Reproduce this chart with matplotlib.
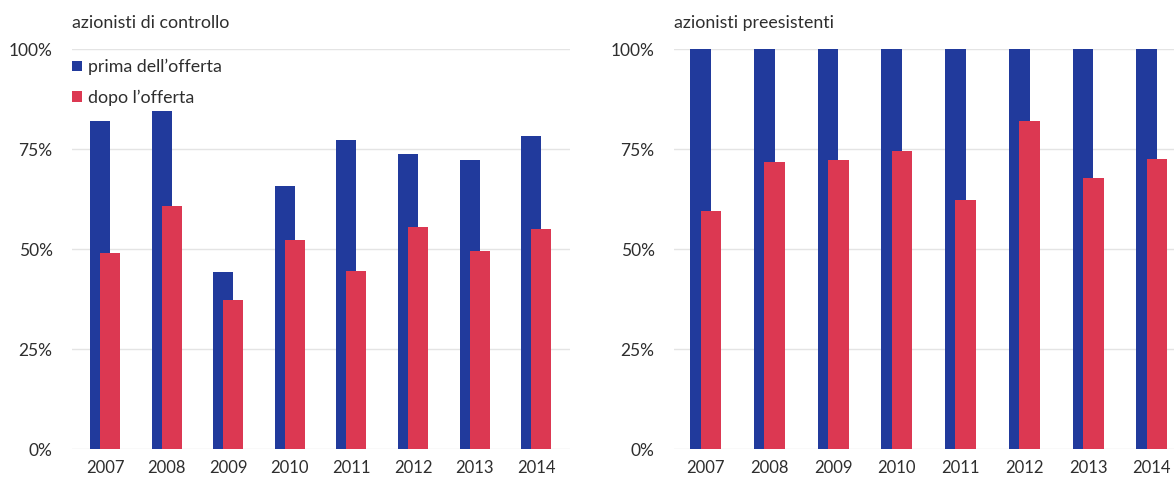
import matplotlib
matplotlib.use("Agg")
import matplotlib.pyplot as plt
import numpy as np

plt.rcParams['font.family'] = ['Lato', 'DejaVu Sans']

years = ["2007", "2008", "2009", "2010", "2011", "2012", "2013", "2014"]
# azionisti di controllo
ctrl_prima = [82.1, 84.6, 44.2, 65.8, 77.3, 73.7, 72.3, 78.2]
ctrl_dopo = [49.1, 60.8, 37.3, 52.3, 44.6, 55.4, 49.4, 55.1]
# azionisti preesistenti
pre_prima = [100, 100, 100, 100, 100, 100, 100, 100]
pre_dopo = [59.6, 71.7, 72.3, 74.6, 62.2, 81.9, 67.8, 72.5]

yticks = [0, 25, 50, 75, 100]
ytick_labels = ["0%", "25%", "50%", "75%", "100%"]
titles = ["azionisti di controllo", "azionisti preesistenti"]
legend_labels = ["prima dell\u2019offerta", "dopo l\u2019offerta"]

BLUE = "#213a9c"
RED = "#dc3852"
TEXT = "#2e2e2e"
GRID = "#e4e4e4"

fig = plt.figure(figsize=(11.74, 4.79), dpi=100)
ax1 = fig.add_axes([72/1174, 30/479, 498/1174, 400/479])
ax2 = fig.add_axes([674/1174, 30/479, 500/1174, 400/479])

def draw(ax, prima, dopo, title, xlim, legend=False):
    x = np.arange(len(years))
    w = 0.325
    off = 0.081
    ax.bar(x - off, prima, width=w, color=BLUE, zorder=2, label=legend_labels[0])
    ax.bar(x + off, dopo, width=w, color=RED, zorder=3, label=legend_labels[1])
    ax.set_xlim(*xlim)
    ax.set_ylim(0, 100)
    ax.set_yticks(yticks)
    ax.set_yticklabels(ytick_labels)
    ax.set_xticks(x)
    ax.set_xticklabels(years)
    ax.tick_params(axis='both', length=0, colors=TEXT)
    ax.tick_params(axis='y', pad=14, labelsize=12.5)
    ax.tick_params(axis='x', pad=8, labelsize=12)
    for s in ax.spines.values():
        s.set_visible(False)
    ax.grid(axis='y', color=GRID, linewidth=1.0, zorder=0)
    ax.set_axisbelow(True)
    ax.text(0, 1.045, title, transform=ax.transAxes, ha='left', va='bottom',
            fontsize=12.8, color=TEXT)
    if legend:
        leg = ax.legend(loc='upper left', bbox_to_anchor=(0.0, 0.975), frameon=False,
                        handlelength=0.55, handleheight=0.55, handletextpad=0.35,
                        labelspacing=0.8, borderaxespad=0, borderpad=0,
                        fontsize=12.8)
        for t in leg.get_texts():
            t.set_color(TEXT)

draw(ax1, ctrl_prima, ctrl_dopo, titles[0], (-0.536, 7.55), legend=True)
draw(ax2, pre_prima, pre_dopo, titles[1], (-0.50, 7.35))

fig.savefig("out.png", dpi=100, facecolor="white")
